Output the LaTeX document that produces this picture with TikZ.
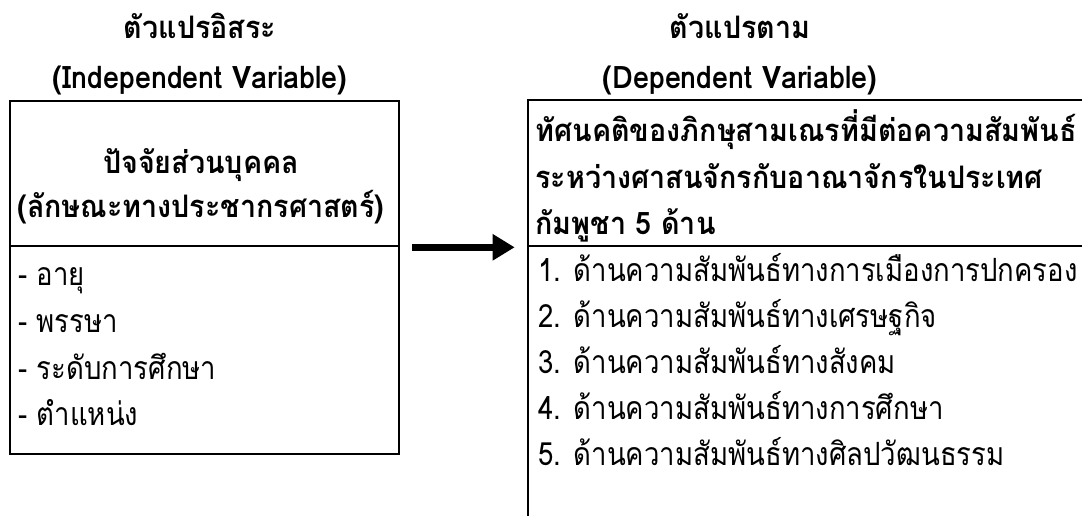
\documentclass[tikz,border=0pt]{standalone}
\usepackage{fontspec}
\setmainfont[Script=Thai, UprightFeatures={FakeStretch=0.86}, BoldFeatures={FakeStretch=0.925}]{Loma}
\usetikzlibrary{arrows.meta,fit}
\tikzset{
	diagram/.style={x=0.5pt, y=-0.5pt, font=\fontsize{16}{19}\selectfont},
	kotak/.style={draw, line width=1.3pt, inner sep=0pt},
	kepala/.style={anchor=base, inner sep=0pt, font=\fontsize{15.5}{18}\selectfont\bfseries},
	butir/.style={anchor=base west, inner sep=0pt},
	panah/.style={-{Triangle[length=11pt,width=12.5pt]}, line width=3.6pt},
}

\begin{document}
\begin{tikzpicture}[diagram]
\useasboundingbox (0,0) rectangle (1082,515);

% ---------- kotak ----------
\node[kotak, fit={(10,101) (399,246)}] (hkiri) {};
\node[kotak, fit={(10,246) (399,454)}] (bkiri) {};
\node[kotak, fit={(528,100) (1100,246)}] (hkanan) {};
\node[kotak, fit={(528,246) (1100,540)}] (bkanan) {};

% ---------- judul ----------
\node[kepala] (t1) at (200,38) {ตัวแปรอิสระ};
\node[kepala] (t2) at (200,88) {(Independent Variable)};
\node[kepala] (t3) at (740,38) {ตัวแปรตาม};
\node[kepala] (t4) at (740,88) {(Dependent Variable)};

% ---------- kiri ----------
\node[kepala] (k1) at (201,173) {ปัจจัยส่วนบุคคล};
\node[kepala] (k2) at (201,217) {(ลักษณะทางประชากรศาสตร์)};
\node[butir] (a1) at (18,285) {- อายุ};
\node[butir] (a2) at (18,332) {- พรรษา};
\node[butir] (a3) at (18,379) {- ระดับการศึกษา};
\node[butir] (a4) at (18,425) {- ตำแหน่ง};

% ---------- kanan ----------
\node[kepala, anchor=base west] (n1) at (535,141) {ทัศนคติของภิกษุสามเณรที่มีต่อความสัมพันธ์};
\node[kepala, anchor=base west] (n2) at (535,188) {ระหว่างศาสนจักรกับอาณาจักรในประเทศ};
\node[kepala, anchor=base west] (n3) at (535,234) {กัมพูชา 5 ด้าน};
\node[butir] (d1) at (538,281) {1. ด้านความสัมพันธ์ทางการเมืองการปกครอง};
\node[butir] (d2) at (538,327) {2. ด้านความสัมพันธ์ทางเศรษฐกิจ};
\node[butir] (d3) at (538,373) {3. ด้านความสัมพันธ์ทางสังคม};
\node[butir] (d4) at (538,419) {4. ด้านความสัมพันธ์ทางการศึกษา};
\node[butir] (d5) at (538,465) {5. ด้านความสัมพันธ์ทางศิลปวัฒนธรรม};

% ---------- panah ----------
\draw[panah] ([xshift=6pt]hkiri.south east) -- ([xshift=-6pt]hkanan.south west);

\end{tikzpicture}
\end{document}
